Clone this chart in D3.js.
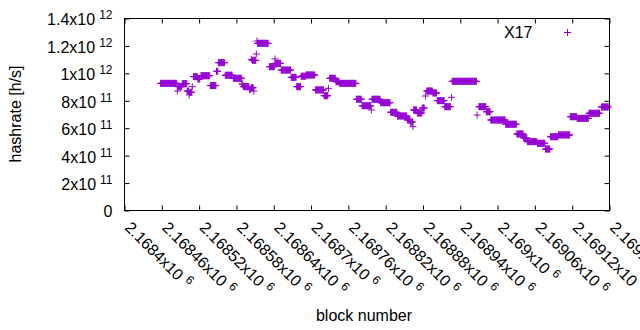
<!DOCTYPE html>
<html>
<head>
<meta charset="utf-8">
<script src="https://cdn.jsdelivr.net/npm/d3@7"></script>
<style>
    body { margin: 0; background: #fff; }
    svg { display: block; font-family: "Liberation Sans", Arial, sans-serif; }
</style>
</head>
<body>
<svg id="chart"></svg>
<script>
// runs of blocks that share the same hashrate estimate (one point per block)
const runFrom = [
    2168458, 2168485, 2168486, 2168493, 2168501, 2168504, 2168505, 2168509, 2168511, 2168518,
    2168523, 2168538, 2168548, 2168551, 2168562, 2168575, 2168589, 2168591, 2168601, 2168604,
    2168608, 2168604, 2168606, 2168612, 2168613, 2168614, 2168633, 2168642, 2168643, 2168652,
    2168668, 2168677, 2168684, 2168692, 2168707, 2168721, 2168728, 2168730, 2168740, 2168746,
    2168773, 2168782, 2168797, 2168798, 2168812, 2168828, 2168839, 2168855, 2168860, 2168864,
    2168865, 2168871, 2168879, 2168884, 2168886, 2168896, 2168903, 2168915, 2168926, 2168927,
    2168967, 2168970, 2168982, 2168989, 2169013, 2169031, 2169042, 2169048, 2169064, 2169077,
    2169085, 2169098, 2169117, 2169128, 2169147, 2169167
];
const runTo = [
    2168484, 2168485, 2168492, 2168500, 2168503, 2168504, 2168508, 2168509, 2168517, 2168521,
    2168537, 2168547, 2168550, 2168561, 2168573, 2168588, 2168590, 2168600, 2168603, 2168607,
    2168608, 2168604, 2168611, 2168612, 2168613, 2168631, 2168641, 2168642, 2168651, 2168667,
    2168676, 2168683, 2168691, 2168706, 2168720, 2168727, 2168728, 2168739, 2168745, 2168772,
    2168781, 2168796, 2168797, 2168811, 2168827, 2168838, 2168854, 2168859, 2168863, 2168864,
    2168870, 2168878, 2168882, 2168884, 2168895, 2168902, 2168914, 2168924, 2168926, 2168966,
    2168967, 2168981, 2168988, 2169012, 2169030, 2169041, 2169047, 2169063, 2169076, 2169084,
    2169097, 2169116, 2169127, 2169146, 2169164, 2169178
];
const runHashrate = [
    9.27e11, 8.71e11, 9.03e11, 9.25e11, 8.71e11, 8.43e11, 8.62e11, 9.03e11, 9.76e11, 9.59e11,
    9.83e11, 9.11e11, 10.15e11, 10.78e11, 9.86e11, 9.64e11, 9.22e11, 9.03e11, 8.84e11, 8.95e11,
    8.71e11, 11.02e11, 10.95e11, 11.41e11, 12.36e11, 12.19e11, 10.49e11, 11.05e11, 10.73e11, 10.24e11,
    9.71e11, 9.03e11, 9.79e11, 9.88e11, 8.79e11, 8.37e11, 8.91e11, 9.64e11, 9.39e11, 9.27e11,
    8.11e11, 7.64e11, 7.33e11, 8.11e11, 7.86e11, 7.16e11, 6.89e11, 6.60e11, 6.45e11, 6.11e11,
    7.33e11, 7.11e11, 7.47e11, 8.35e11, 8.71e11, 8.57e11, 8.01e11, 7.57e11, 8.25e11, 9.42e11,
    6.96e11, 7.57e11, 7.20e11, 6.60e11, 6.29e11, 5.58e11, 5.29e11, 5.02e11, 4.90e11, 4.48e11,
    5.38e11, 5.51e11, 6.84e11, 6.72e11, 7.09e11, 7.55e11
];

const seriesName = "X17";

const xTickValues = [
    2168400, 2168460, 2168520, 2168580, 2168640, 2168700, 2168760,
    2168820, 2168880, 2168940, 2169000, 2169060, 2169120, 2169180
];
const xTickLabels = [
    "2.1684x10^6", "2.16846x10^6", "2.16852x10^6", "2.16858x10^6", "2.16864x10^6", "2.1687x10^6", "2.16876x10^6",
    "2.16882x10^6", "2.16888x10^6", "2.16894x10^6", "2.169x10^6", "2.16906x10^6", "2.16912x10^6", "2.16918x10^6"
];
const yTickValues = [0, 2e11, 4e11, 6e11, 8e11, 1e12, 1.2e12, 1.4e12];
const yTickLabels = ["0", "2x10^11", "4x10^11", "6x10^11", "8x10^11", "1x10^12", "1.2x10^12", "1.4x10^12"];

class HashrateChart {
    constructor(config, data) {
        this.config = {
            parent: config.parent,
            width: config.width || 640,
            height: config.height || 330,
            margin: config.margin || { top: 18.5, right: 30.5, bottom: 119.5, left: 124.5 },
            color: config.color || "#9400d3",
            font_size: config.font_size || 16,
            tick: config.tick || 5
        };
        this.data = data;
        this.init();
    }

    init() {
        let self = this;

        self.svg = d3.select(self.config.parent)
            .attr('width', self.config.width)
            .attr('height', self.config.height);

        self.chart = self.svg.append('g')
            .attr('transform', `translate(${self.config.margin.left}, ${self.config.margin.top})`);

        self.inner_width = self.config.width - self.config.margin.left - self.config.margin.right;
        self.inner_height = self.config.height - self.config.margin.top - self.config.margin.bottom;

        self.xscale = d3.scaleLinear()
            .domain([xTickValues[0], xTickValues[xTickValues.length - 1]])
            .range([0, self.inner_width]);

        self.yscale = d3.scaleLinear()
            .domain([yTickValues[0], yTickValues[yTickValues.length - 1]])
            .range([self.inner_height, 0]);
    }

    // "2x10^11" -> main text + raised exponent
    label(sel, str, gap) {
        let parts = str.split('^');
        sel.text(null);
        sel.append('tspan').text(parts[0]);
        if (parts.length > 1) {
            sel.append('tspan')
                .attr('dx', gap)
                .attr('dy', -6)
                .attr('font-size', 12)
                .text(parts[1]);
        }
    }

    render() {
        let self = this;
        const t = self.config.tick;

        // bottom axis with rotated labels
        let xaxis = d3.axisBottom(self.xscale)
            .tickValues(xTickValues)
            .tickSizeInner(-t)
            .tickSizeOuter(0)
            .tickFormat((d, i) => xTickLabels[i]);
        let xg = self.chart.append('g')
            .attr('transform', `translate(0, ${self.inner_height})`)
            .call(xaxis);
        xg.selectAll('.tick text')
            .attr('y', null)
            .attr('dy', '0.35em')
            .attr('text-anchor', 'start')
            .attr('transform', 'translate(3, 14) rotate(45)')
            .each(function (d, i) { self.label(d3.select(this), xTickLabels[i], 5); });

        // top mirror ticks
        self.chart.append('g')
            .call(d3.axisTop(self.xscale).tickValues(xTickValues).tickSizeInner(-t).tickSizeOuter(0).tickFormat(''));

        // left axis
        let yaxis = d3.axisLeft(self.yscale)
            .tickValues(yTickValues)
            .tickSizeInner(-t)
            .tickSizeOuter(0)
            .tickPadding(12)
            .tickFormat((d, i) => yTickLabels[i]);
        let yg = self.chart.append('g').call(yaxis);
        yg.selectAll('.tick text')
            .attr('dy', '0.4em')
            .each(function (d, i) { self.label(d3.select(this), yTickLabels[i], 4); });

        // right mirror ticks
        self.chart.append('g')
            .attr('transform', `translate(${self.inner_width}, 0)`)
            .call(d3.axisRight(self.yscale).tickValues(yTickValues).tickSizeInner(-t).tickSizeOuter(0).tickFormat(''));

        self.chart.selectAll('.domain').remove();
        self.chart.selectAll('.tick line').attr('stroke', '#000');
        self.chart.selectAll('.tick text')
            .attr('fill', '#000')
            .attr('font-size', self.config.font_size)
            .attr('font-family', '"Liberation Sans", Arial, sans-serif');

        // border
        self.chart.append('rect')
            .attr('width', self.inner_width)
            .attr('height', self.inner_height)
            .attr('fill', 'none')
            .attr('stroke', '#000')
            .attr('stroke-width', 1);

        // points
        const plus = 'M-3.5,0H3.5M0,-3.5V3.5';
        self.chart.append('g')
            .selectAll('path')
            .data(self.data)
            .join('path')
            .attr('d', plus)
            .attr('transform', d => `translate(${self.xscale(d.block)}, ${self.yscale(d.hashrate)})`)
            .attr('fill', 'none')
            .attr('stroke', self.config.color)
            .attr('stroke-width', 1);

        // legend
        self.svg.append('text')
            .attr('x', 532.5)
            .attr('y', 37.5)
            .attr('text-anchor', 'end')
            .attr('font-size', self.config.font_size)
            .text(seriesName);
        self.svg.append('path')
            .attr('d', plus)
            .attr('transform', 'translate(567.5, 32.5)')
            .attr('fill', 'none')
            .attr('stroke', self.config.color)
            .attr('stroke-width', 1);

        // axis titles
        self.svg.append('text')
            .attr('x', 364)
            .attr('y', 321)
            .attr('text-anchor', 'middle')
            .attr('font-size', self.config.font_size)
            .text('block number');

        self.svg.append('text')
            .attr('transform', 'translate(21, 114) rotate(-90)')
            .attr('text-anchor', 'middle')
            .attr('font-size', self.config.font_size)
            .text('hashrate [h/s]');
    }
}

let points = [];
runFrom.forEach((from, i) => {
    for (let b = from; b <= runTo[i]; b++) {
        points.push({ block: b, hashrate: runHashrate[i] });
    }
});

let chart = new HashrateChart({ parent: '#chart' }, points);
chart.render();
</script>
</body>
</html>
